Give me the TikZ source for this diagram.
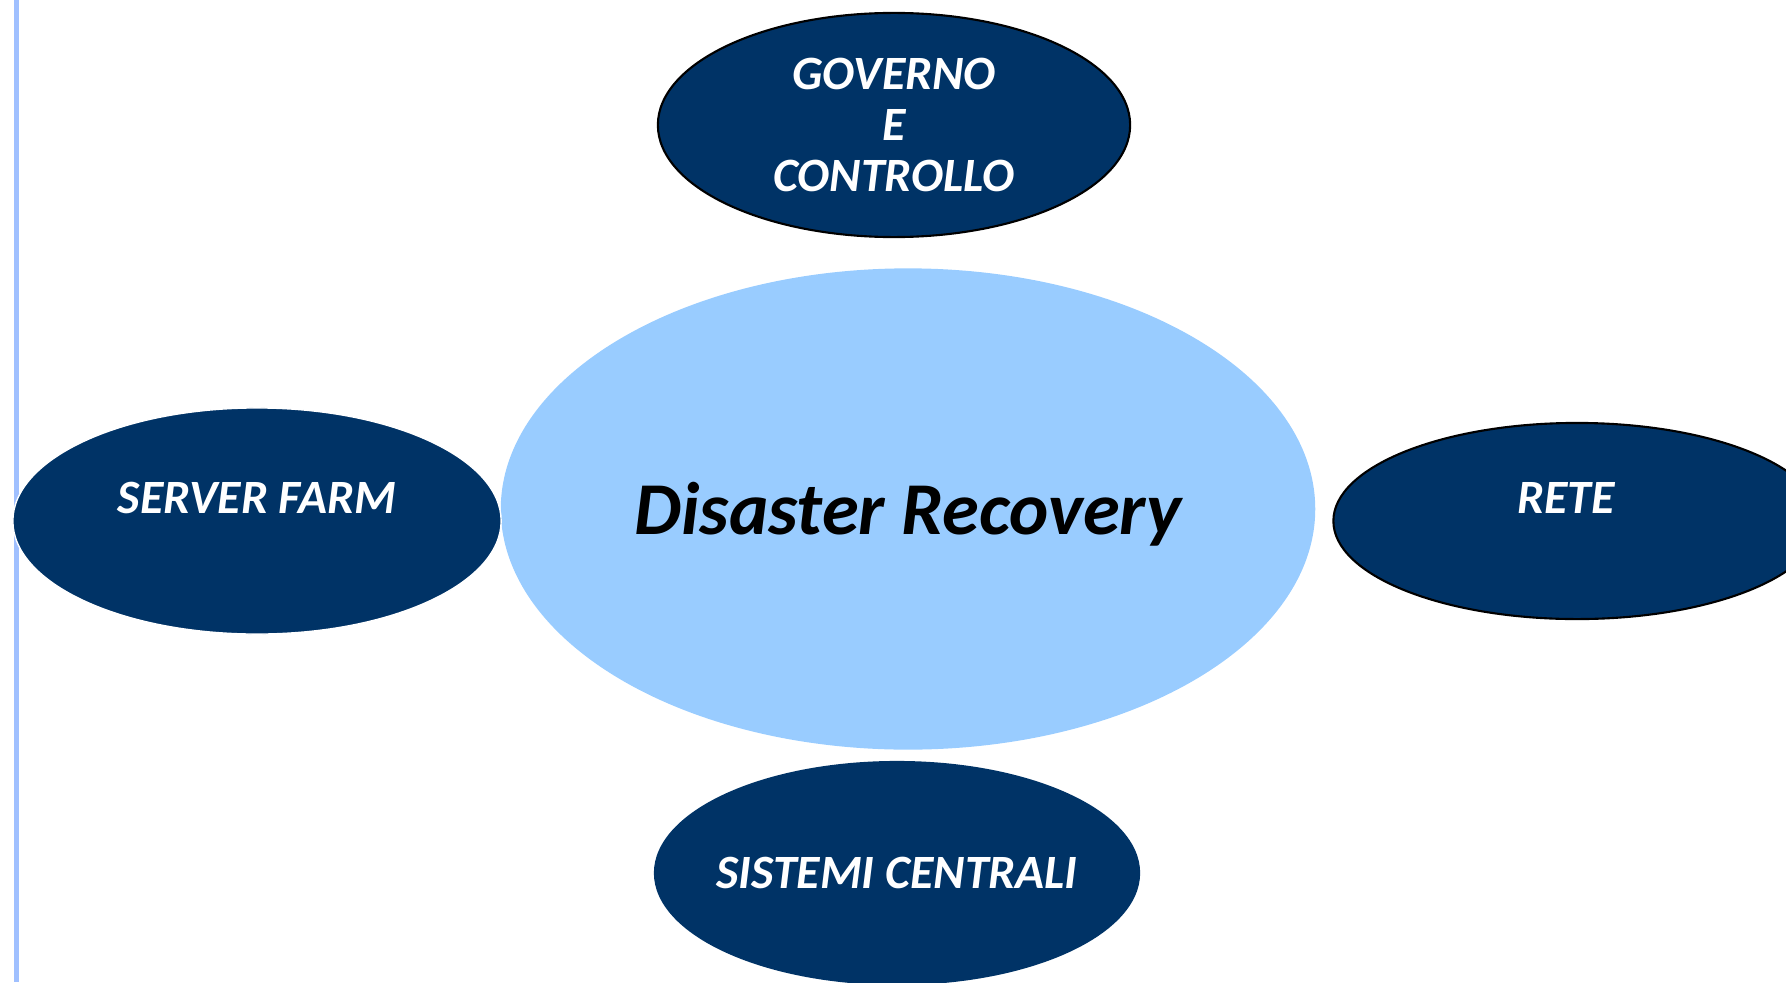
\documentclass[tikz,border=0pt]{standalone}
\usepackage{fontspec}
\setmainfont{Carlito}
\usetikzlibrary{shapes.geometric}
\definecolor{navy}{RGB}{0,51,102}
\definecolor{skyblue}{RGB}{153,204,255}
\definecolor{barblue}{RGB}{160,192,255}

\begin{document}
\begin{tikzpicture}[
    x=0.01cm, y=-0.01cm,
    area/.style={
        ellipse,
        fill=navy,
        text=white,
        inner sep=0pt,
        inner xsep=-0.5cm,
        align=center,
        font=\bfseries\itshape\fontsize{13.6}{14.5}\selectfont
    },
    hub/.style={
        ellipse,
        fill=skyblue,
        inner sep=0pt,
        text height=0.65cm,
        text depth=0.15cm,
        font=\bfseries\itshape\fontsize{21.2}{24}\selectfont
    },
    raised/.style={text height=0.3cm, text depth=0.46cm}
]
\clip (0,0) rectangle (1786,982);

% barra laterale
\fill[barblue] (14,0) rectangle (19,982);

% nodi
\node[hub, minimum width=8.14cm, minimum height=4.81cm] (dr) at (908,509) {Disaster Recovery};
\node[area, raised, draw=white, thin, minimum width=4.88cm, minimum height=2.26cm] (farm) at (257,521) {SERVER FARM};
\node[area, draw=black, line width=0.6pt, text depth=-0.1cm, minimum width=4.72cm, minimum height=2.24cm] (gov) at (894,125) {GOVERNO\\E\\CONTROLLO};
\node[area, raised, draw=black, line width=0.6pt, minimum width=4.87cm, minimum height=1.96cm] (rete) at (1577,521) {RETE\hspace*{0.22cm}};
\node[area, minimum width=4.86cm, minimum height=2.24cm] (sist) at (897,873) {SISTEMI CENTRALI};

\end{tikzpicture}
\end{document}
